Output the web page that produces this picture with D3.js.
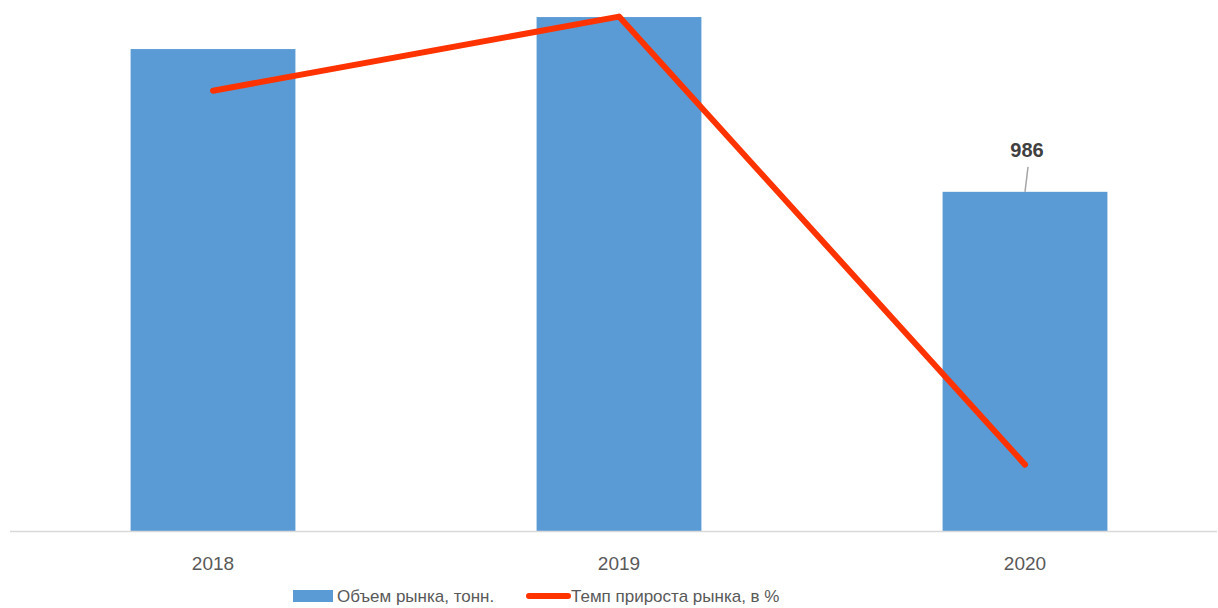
<!DOCTYPE html>
<html>
<head>
<meta charset="utf-8">
<script src="https://cdn.jsdelivr.net/npm/d3@7"></script>
<style>
  body { margin: 0; background: #fff; }
  text { font-family: "Liberation Sans", Arial, sans-serif; }
</style>
</head>
<body>
<svg id="chart" width="1218" height="608"></svg>
<script>
const years = ['2018', '2019', '2020'];
const volume = [1401, 1494, 986];
const growth = [-0.2, 6.5, -34.0];
const labelled = ['2020'];

const BAR = '#5B9BD5';
const LINE = '#FF3300';
const TXT = '#595959';

const width = 1218, height = 608;
const svg = d3.select('#chart');

const x = d3.scaleBand().domain(years).range([10, 1228]).paddingInner(0.594).paddingOuter(0.297);
const y = d3.scaleLinear().domain([0, 1500]).range([531, 15]);
const y2 = d3.scaleLinear().domain([-40, 8]).range([531, 0]);

const rows = years.map((yr, i) => ({ year: yr, vol: volume[i], g: growth[i] }));

// bars
svg.append('g').selectAll('rect')
  .data(rows)
  .enter()
  .append('rect')
  .attr('x', d => x(d.year))
  .attr('y', d => y(d.vol))
  .attr('width', x.bandwidth())
  .attr('height', d => y(0) - y(d.vol))
  .attr('fill', BAR);

// baseline
svg.append('line')
  .attr('x1', 10).attr('x2', 1217)
  .attr('y1', y(0) + 0.5).attr('y2', y(0) + 0.5)
  .attr('stroke', '#d9d9d9').attr('stroke-width', 1.5);

// category labels
svg.append('g').selectAll('text')
  .data(years)
  .enter()
  .append('text')
  .attr('x', d => x(d) + x.bandwidth() / 2)
  .attr('y', 570)
  .attr('text-anchor', 'middle')
  .attr('fill', TXT)
  .style('font-size', '19px')
  .text(d => d);

// growth line
const line = d3.line()
  .x(d => x(d.year) + x.bandwidth() / 2)
  .y(d => y2(d.g));

svg.append('path')
  .datum(rows)
  .attr('d', line)
  .attr('fill', 'none')
  .attr('stroke', LINE)
  .attr('stroke-width', 6)
  .attr('stroke-linecap', 'round')
  .attr('stroke-linejoin', 'round');

// data label with leader line
rows.filter(d => labelled.includes(d.year)).forEach(d => {
  const cx = x(d.year) + x.bandwidth() / 2;
  svg.append('line')
    .attr('x1', cx + 3).attr('y1', y(d.vol) - 25)
    .attr('x2', cx).attr('y2', y(d.vol))
    .attr('stroke', '#a6a6a6').attr('stroke-width', 1.5);
  svg.append('text')
    .attr('x', cx + 2)
    .attr('y', y(d.vol) - 35)
    .attr('text-anchor', 'middle')
    .attr('fill', '#404040')
    .style('font-size', '20px')
    .style('font-weight', 'bold')
    .text(d.vol);
});

// legend
const legend = svg.append('g').attr('transform', 'translate(0, 596)');
legend.append('rect')
  .attr('x', 293).attr('y', -6)
  .attr('width', 40).attr('height', 12)
  .attr('fill', BAR);
legend.append('text')
  .attr('x', 337).attr('y', 6)
  .attr('fill', TXT)
  .style('font-size', '17px')
  .text('Объем рынка, тонн.');
legend.append('line')
  .attr('x1', 529).attr('x2', 568)
  .attr('y1', 0).attr('y2', 0)
  .attr('stroke', LINE).attr('stroke-width', 6)
  .attr('stroke-linecap', 'round');
legend.append('text')
  .attr('x', 571).attr('y', 6)
  .attr('fill', TXT)
  .style('font-size', '17px')
  .text('Темп прироста рынка, в %');
</script>
</body>
</html>
